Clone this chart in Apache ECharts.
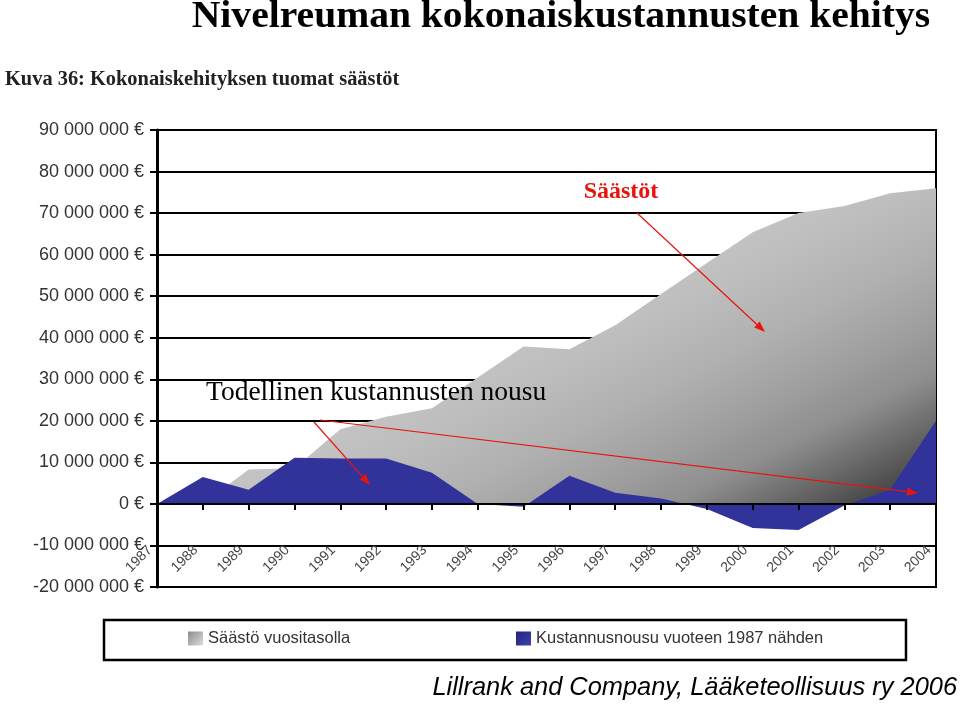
<!DOCTYPE html>
<html>
<head>
<meta charset="utf-8">
<script src="https://cdn.jsdelivr.net/npm/echarts@6/dist/echarts.min.js"></script>
<style>
html,body{margin:0;padding:0;background:#fff;}
#chart{width:960px;height:704px;}
</style>
</head>
<body>
<div id="chart"></div>
<script>
// Categories (years)
const years = ['1987','1988','1989','1990','1991','1992','1993','1994','1995','1996','1997','1998','1999','2000','2001','2002','2003','2004'];
// Savings per year (million €)
const saasto = [0, 0, 8.3, 8.6, 18.0, 21.0, 23.0, 30.4, 37.9, 37.2, 43.0, 50.5, 58.0, 65.4, 70.0, 71.7, 74.8, 76.0];
// Cost increase compared to 1987 (million €)
const kustannus = [0, 6.5, 3.4, 11.1, 10.9, 10.9, 7.5, 0, -0.7, 6.8, 2.7, 1.3, -1.2, -5.8, -6.3, -0.4, 3.4, 20.0];
// Series / legend names
const seriesNames = ['Säästö vuositasolla', 'Kustannusnousu vuoteen 1987 nähden'];
// Axis range (million €)
const yMin = -20, yMax = 90, yStep = 10;

function fmtEuro(vMillion) {
  const v = Math.round(vMillion * 1e6);
  const s = String(Math.abs(v)).replace(/\B(?=(\d{3})+(?!\d))/g, ' ');
  return (v < 0 ? '-' : '') + s + ' €';
}

function arrow(x1, y1, x2, y2) {
  const ang = Math.atan2(y2 - y1, x2 - x1);
  const L = 11, W = 4;
  const bx = x2 - L * Math.cos(ang), by = y2 - L * Math.sin(ang);
  const px = -Math.sin(ang) * W, py = Math.cos(ang) * W;
  return [
    {type:'line', z:100, shape:{x1:x1, y1:y1, x2:bx, y2:by}, style:{stroke:'#e8140c', lineWidth:1.2}},
    {type:'polygon', z:100, shape:{points:[[x2,y2],[bx+px,by+py],[bx-px,by-py]]}, style:{fill:'#e8140c'}}
  ];
}

const chart = echarts.init(document.getElementById('chart'));
// global gradient: darkening towards the lower right corner
const greyGrad = new echarts.graphic.LinearGradient(224, 447, 389, 778, [
  {offset:0, color:'#c9c9c9'},
  {offset:0.05, color:'#c6c6c6'},
  {offset:0.22, color:'#bdbdbd'},
  {offset:0.39, color:'#b0b0b0'},
  {offset:0.54, color:'#a0a0a0'},
  {offset:0.68, color:'#8e8e8e'},
  {offset:0.92, color:'#444444'},
  {offset:1, color:'#2e2e2e'}
], true);
const blueColor = '#31339a';

const legendText = {fontFamily:'Liberation Sans', fontSize:16.5, color:'#333'};

chart.setOption({
  animation: false,
  backgroundColor: '#fff',
  grid: {left:157, right:24, top:130, bottom:117, show:true, borderColor:'#000', borderWidth:2, backgroundColor:'transparent'},
  legend: [
    {left:188, top:630, padding:0, itemWidth:15, itemHeight:14, textStyle:legendText,
     data:[{name: seriesNames[0], icon:'rect', itemStyle:{color: new echarts.graphic.LinearGradient(0,0,1,1,[{offset:0,color:'#8c8c8c'},{offset:1,color:'#dcdcdc'}])}}]},
    {left:516, top:630, padding:0, itemWidth:15, itemHeight:14, textStyle:legendText,
     data:[{name: seriesNames[1], icon:'rect', itemStyle:{color: new echarts.graphic.LinearGradient(0,0,1,1,[{offset:0,color:'#23237f'},{offset:1,color:'#4040a8'}])}}]}
  ],
  xAxis: {
    type:'category', data: years, boundaryGap:false, z:5,
    axisLine:{onZero:true, lineStyle:{color:'#000', width:2}},
    axisTick:{show:true, length:6, lineStyle:{color:'#000', width:2}},
    axisLabel:{interval:0, rotate:45, margin:-46, padding:[0, 10, 0, 0], fontFamily:'Liberation Sans', fontSize:14, color:'#444'},
    splitLine:{show:false}
  },
  yAxis: {
    type:'value', min:yMin, max:yMax, interval:yStep,
    axisLine:{show:true, lineStyle:{color:'#000', width:3}},
    axisTick:{show:true, length:7, lineStyle:{color:'#000', width:2}},
    axisLabel:{margin:13, fontFamily:'Liberation Sans', fontSize:18, color:'#333', formatter: fmtEuro},
    splitLine:{show:true, lineStyle:{color:'#000', width:2}}
  },
  series: [
    {name: seriesNames[0], type:'line', data: saasto, symbol:'none', lineStyle:{width:0},
     itemStyle:{color:'#bbbbbb'}, areaStyle:{color: greyGrad, opacity:1}, z:2},
    {name: seriesNames[1], type:'line', data: kustannus, symbol:'none', lineStyle:{width:0},
     itemStyle:{color: blueColor}, areaStyle:{color: blueColor, opacity:1}, z:3}
  ],
  graphic: [
    {type:'rect', z:1, shape:{x:104, y:620, width:802, height:40}, style:{fill:'#fff', stroke:'#000', lineWidth:2.5}},
    {type:'text', z:100, x:561, y:17.5, scaleX:1.07, style:{text:'Nivelreuman kokonaiskustannusten kehitys', font:'bold 37px "Liberation Serif"', fill:'#000', align:'center', verticalAlign:'middle'}},
    {type:'text', z:100, x:5, y:80, style:{text:'Kuva 36: Kokonaiskehityksen tuomat säästöt', font:'bold 20.4px "Liberation Serif"', fill:'#222', align:'left', verticalAlign:'middle'}},
    {type:'text', z:100, x:621, y:192, style:{text:'Säästöt', font:'bold 24px "Liberation Serif"', fill:'#e8140c', align:'center', verticalAlign:'middle'}},
    {type:'text', z:100, x:206, y:393, style:{text:'Todellinen kustannusten nousu', font:'27.5px "Liberation Serif"', fill:'#000', align:'left', verticalAlign:'middle'}},
    {type:'text', z:100, x:957, y:688, style:{text:'Lillrank and Company, Lääketeollisuus ry 2006', font:'italic 25.4px "Liberation Sans"', fill:'#000', align:'right', verticalAlign:'middle'}}
  ].concat(arrow(637, 213, 765, 332), arrow(314, 422, 370, 485), arrow(320, 420, 918, 493))
});
</script>
</body>
</html>
